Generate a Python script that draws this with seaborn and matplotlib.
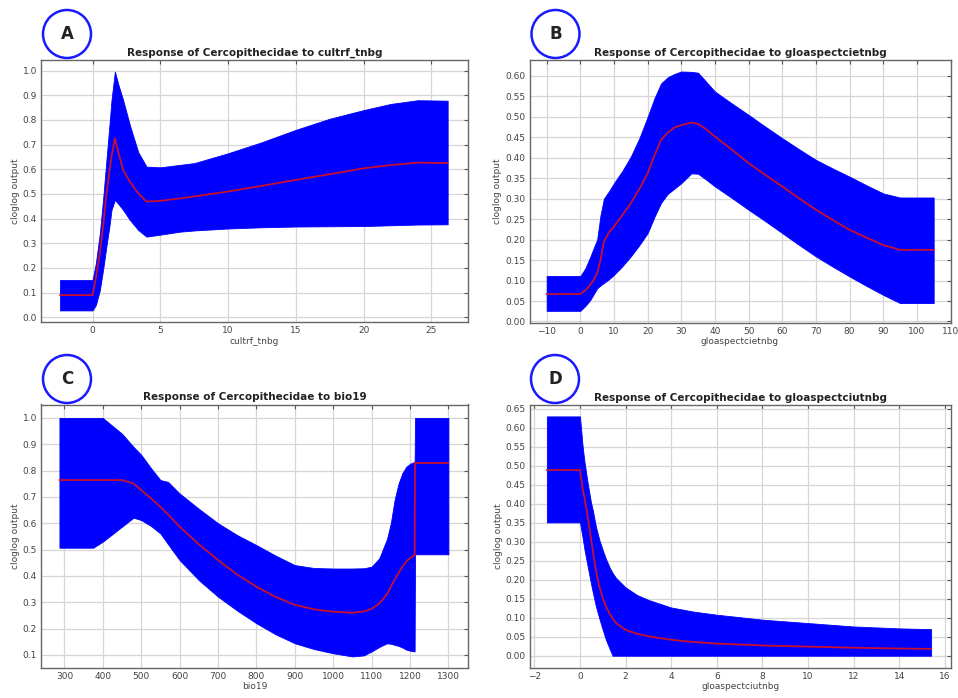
import numpy as np
import pandas as pd
import matplotlib
matplotlib.use("Agg")
import matplotlib.pyplot as plt
from matplotlib.patches import Ellipse
from matplotlib.ticker import FormatStrFormatter
import seaborn as sns

# ---------------- Data ----------------
# Panel A: cultrf_tnbg
a_x = [-2.4, 0.0, 0.25, 0.54, 0.8, 1.03, 1.25, 1.4, 1.65, 1.9, 2.26, 2.75, 3.37, 3.98, 5.0, 6.44, 7.5, 10.0, 12.5, 15.0, 17.5, 20.0, 22.0, 24.0, 26.2]
a_lo = [0.028, 0.028, 0.05, 0.11, 0.2, 0.29, 0.37, 0.435, 0.476, 0.46, 0.435, 0.395, 0.354, 0.327, 0.335, 0.347, 0.352, 0.36, 0.365, 0.368, 0.369, 0.37, 0.373, 0.376, 0.377]
a_mean = [0.09, 0.09, 0.16, 0.26, 0.38, 0.5, 0.59, 0.65, 0.726, 0.67, 0.597, 0.55, 0.503, 0.469, 0.472, 0.482, 0.49, 0.51, 0.533, 0.557, 0.58, 0.604, 0.617, 0.627, 0.625]
a_hi = [0.151, 0.151, 0.22, 0.34, 0.49, 0.64, 0.78, 0.88, 0.996, 0.945, 0.88, 0.78, 0.67, 0.611, 0.608, 0.618, 0.625, 0.665, 0.71, 0.76, 0.805, 0.84, 0.865, 0.88, 0.878]

# Panel B: gloaspectcietnbg
b_x = [-10, 0, 1.5, 3, 4, 5, 6, 7, 8.5, 10, 12.5, 15, 17.5, 20, 22, 24, 26, 28, 30, 33, 35, 37.5, 40, 45, 50, 55, 60, 65, 70, 75, 80, 85, 90, 95, 105]
b_lo = [0.026, 0.026, 0.038, 0.053, 0.067, 0.081, 0.088, 0.094, 0.103, 0.114, 0.135, 0.159, 0.186, 0.216, 0.255, 0.29, 0.312, 0.325, 0.338, 0.362, 0.361, 0.346, 0.33, 0.302, 0.273, 0.245, 0.216, 0.187, 0.159, 0.134, 0.11, 0.087, 0.065, 0.045, 0.045]
b_mean = [0.067, 0.067, 0.076, 0.09, 0.102, 0.118, 0.15, 0.195, 0.218, 0.232, 0.26, 0.289, 0.323, 0.362, 0.405, 0.444, 0.462, 0.474, 0.48, 0.486, 0.483, 0.469, 0.452, 0.42, 0.387, 0.358, 0.33, 0.301, 0.273, 0.248, 0.224, 0.205, 0.187, 0.175, 0.175]
b_hi = [0.111, 0.111, 0.13, 0.159, 0.18, 0.2, 0.26, 0.3, 0.318, 0.338, 0.368, 0.403, 0.447, 0.5, 0.545, 0.582, 0.597, 0.605, 0.611, 0.61, 0.608, 0.585, 0.562, 0.533, 0.505, 0.476, 0.448, 0.421, 0.395, 0.374, 0.354, 0.333, 0.313, 0.303, 0.303]

# Panel C: bio19
c_x = [287, 375, 400, 450, 480, 500, 525, 550, 570, 600, 650, 700, 750, 800, 850, 900, 950, 1000, 1050, 1080, 1100, 1120, 1140, 1150, 1160, 1170, 1180, 1190, 1200, 1212, 1213, 1300]
c_lo = [0.507, 0.507, 0.53, 0.587, 0.621, 0.612, 0.59, 0.561, 0.52, 0.46, 0.384, 0.321, 0.268, 0.22, 0.178, 0.144, 0.122, 0.106, 0.094, 0.098, 0.113, 0.13, 0.144, 0.142, 0.138, 0.134, 0.128, 0.12, 0.116, 0.113, 0.482, 0.482]
c_mean = [0.764, 0.764, 0.764, 0.764, 0.751, 0.726, 0.695, 0.662, 0.633, 0.587, 0.52, 0.46, 0.405, 0.359, 0.32, 0.29, 0.273, 0.264, 0.26, 0.265, 0.275, 0.295, 0.33, 0.359, 0.386, 0.41, 0.435, 0.454, 0.468, 0.479, 0.829, 0.829]
c_hi = [1.0, 1.0, 1.0, 0.94, 0.89, 0.86, 0.81, 0.764, 0.757, 0.713, 0.655, 0.6, 0.555, 0.517, 0.477, 0.441, 0.43, 0.428, 0.428, 0.429, 0.435, 0.467, 0.54, 0.6, 0.69, 0.75, 0.79, 0.814, 0.826, 0.833, 1.0, 1.0]

# Panel D: gloaspectciutnbg
d_x = [-1.45, 0.0, 0.12, 0.2, 0.34, 0.48, 0.56, 0.7, 0.85, 1.0, 1.14, 1.29, 1.43, 1.58, 2.0, 2.5, 3.0, 4.0, 5.0, 6.0, 8.0, 10.0, 12.0, 14.0, 15.4]
d_lo = [0.351, 0.351, 0.31, 0.279, 0.235, 0.191, 0.168, 0.13, 0.098, 0.068, 0.042, 0.02, 0.0, 0.0, 0.0, 0.0, 0.0, 0.0, 0.0, 0.0, 0.0, 0.0, 0.0, 0.0, 0.0]
d_mean = [0.489, 0.489, 0.44, 0.415, 0.367, 0.31, 0.279, 0.225, 0.182, 0.152, 0.13, 0.112, 0.098, 0.086, 0.068, 0.058, 0.051, 0.042, 0.036, 0.032, 0.027, 0.024, 0.021, 0.019, 0.018]
d_hi = [0.63, 0.63, 0.55, 0.51, 0.454, 0.405, 0.384, 0.34, 0.305, 0.278, 0.255, 0.234, 0.218, 0.205, 0.18, 0.16, 0.147, 0.127, 0.116, 0.108, 0.095, 0.086, 0.077, 0.072, 0.07]

titles = ["Response of Cercopithecidae to cultrf_tnbg",
          "Response of Cercopithecidae to gloaspectcietnbg",
          "Response of Cercopithecidae to bio19",
          "Response of Cercopithecidae to gloaspectciutnbg"]
xlabels = ["cultrf_tnbg", "gloaspectcietnbg", "bio19", "gloaspectciutnbg"]
letters = ["A", "B", "C", "D"]

# ---------------- Figure ----------------
sns.set_style("white")
plt.rcParams['font.family'] = ['DejaVu Sans']
W, H = 958, 698
fig = plt.figure(figsize=(W / 100, H / 100), dpi=100)

def px_axes(l, r, t, b):
    return fig.add_axes([l / W, 1 - b / H, (r - l) / W, (b - t) / H])

boxes = [(41, 468, 60, 322), (529.5, 950.5, 60, 322.5),
         (41, 468, 404.5, 667.5), (530, 950.5, 405, 667.5)]
panels = [(a_x, a_lo, a_mean, a_hi), (b_x, b_lo, b_mean, b_hi),
          (c_x, c_lo, c_mean, c_hi), (d_x, d_lo, d_mean, d_hi)]
xlims = [(-3.8, 27.7), (-15.1, 110), (239, 1351), (-2.19, 16.25)]
ylims = [(-0.019, 1.043), (-0.0025, 0.639), (0.052, 1.051), (-0.031, 0.66)]
xticks = [np.arange(0, 26, 5), np.arange(-10, 111, 10), np.arange(300, 1301, 100), np.arange(-2, 17, 2)]
yticks = [np.arange(0, 1.01, 0.1), np.arange(0, 0.601, 0.05), np.arange(0.1, 1.01, 0.1), np.arange(0, 0.651, 0.05)]
yfmt = ["%.1f", "%.2f", "%.1f", "%.2f"]
circles = [(67, 34), (555.5, 34), (67, 379), (555, 379)]

for i in range(4):
    ax = px_axes(*boxes[i])
    x, lo, mean, hi = panels[i]
    df = pd.DataFrame({"x": x, "mean": mean})
    ax.fill_between(x, lo, hi, color="#0000ff", linewidth=0.6, edgecolor="#0000ff", zorder=2)
    sns.lineplot(data=df, x="x", y="mean", ax=ax, color="#c8102e", linewidth=1.3,
                 zorder=3, sort=False, estimator=None)
    ax.set_xlim(*xlims[i])
    ax.set_ylim(*ylims[i])
    ax.set_xticks(xticks[i])
    ax.set_yticks(yticks[i])
    ax.yaxis.set_major_formatter(FormatStrFormatter(yfmt[i]))
    ax.grid(True, color="#d6d6d6", linewidth=0.9, zorder=0)
    ax.set_axisbelow(True)
    ax.tick_params(direction="in", length=3, width=0.8, top=True, right=True,
                   labelsize=6.5, labelcolor="#444444", color="#555555", pad=3)
    for s in ax.spines.values():
        s.set_color("#666666")
        s.set_linewidth(1.0)
        s.set_visible(True)
    ax.set_title(titles[i], fontsize=7.5, fontweight="bold", color="#222222", pad=3)
    ax.set_xlabel(xlabels[i], fontsize=6.5, color="#444444", labelpad=1)
    ax.set_ylabel("cloglog output", fontsize=6.5, color="#444444", labelpad=2)

for i in range(4):
    cx, cy = circles[i]
    e = Ellipse((cx / W, 1 - cy / H), 48 / W, 48 / H, transform=fig.transFigure,
                facecolor="white", edgecolor="#1a1aff", linewidth=1.8, zorder=5)
    fig.patches.append(e)
    fig.text(cx / W, 1 - cy / H, letters[i], ha="center", va="center",
             fontsize=12, fontweight="bold", color="#222222", zorder=10)

fig.savefig("out.png", dpi=100, facecolor="white")
